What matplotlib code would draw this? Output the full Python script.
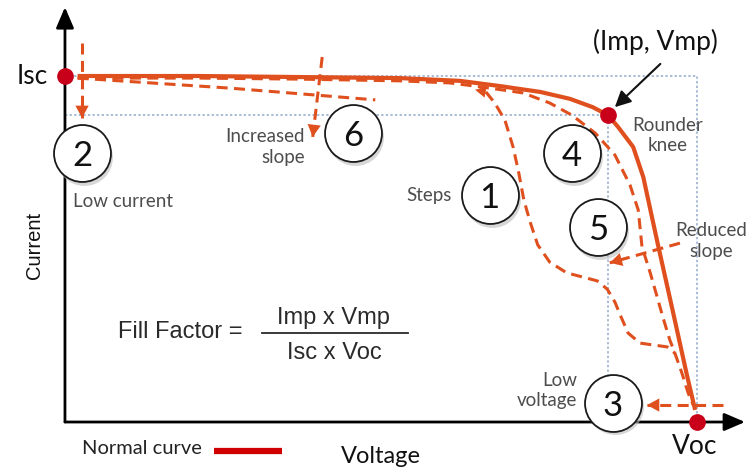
import matplotlib
matplotlib.use("Agg")
import matplotlib.pyplot as plt
import matplotlib.transforms as mtransforms

# all values are normalised: voltage as V/Voc, current as I/Isc
normal_v = [0.02, 0.214, 0.372, 0.530, 0.625, 0.688, 0.752, 0.799, 0.835, 0.859,
            0.875, 0.899, 0.915, 0.938, 0.962, 0.984, 0.997]
normal_i = [1.0, 1.0, 0.997, 0.994, 0.986, 0.971, 0.954, 0.934, 0.910, 0.887,
            0.853, 0.795, 0.708, 0.514, 0.318, 0.136, 0.035]

# rounder knee / reduced slope curve
knee_v = [0.02, 0.214, 0.372, 0.530, 0.609, 0.661, 0.725, 0.767, 0.802, 0.839, 0.870,
          0.894, 0.907, 0.913, 0.926, 0.937, 0.946, 0.957, 0.965, 0.976, 0.986, 0.994]
knee_i = [0.994, 0.994, 0.991, 0.986, 0.980, 0.968, 0.951, 0.922, 0.887, 0.835, 0.772,
          0.685, 0.613, 0.506, 0.431, 0.361, 0.303, 0.237, 0.199, 0.142, 0.084, 0.049]

# steps curve
steps_v = [0.666, 0.680, 0.696, 0.709, 0.718, 0.726, 0.736, 0.748, 0.767, 0.794,
           0.842, 0.858, 0.870, 0.880, 0.891, 0.910, 0.953, 0.965]
steps_i = [0.954, 0.922, 0.873, 0.795, 0.720, 0.642, 0.578, 0.512, 0.462, 0.431,
           0.408, 0.384, 0.347, 0.303, 0.257, 0.228, 0.217, 0.199]

# increased slope near Isc
slope_v = [0.02, 0.261, 0.491]
slope_i = [0.994, 0.965, 0.931]

v_mp, i_mp = 0.859, 0.887

circle_labels = ["1", "2", "3", "4", "5", "6"]
circle_v = [0.672, 0.027, 0.867, 0.802, 0.843, 0.456]
circle_i = [0.656, 0.777, 0.055, 0.777, 0.563, 0.835]

RED = "#E0501E"
DOT = "#C8001A"
GREY = "#4d4d4d"
BLUE = "#8FAACC"
DASH = (3.6, 2.1)
DLW = 2.2

fig = plt.figure(figsize=(7.47, 4.70), dpi=100)
ax = fig.add_axes([0, 0, 1, 1])
ax.set_xlim(-0.1028, 1.0791)
ax.set_ylim(-0.1387, 1.2197)
ax.axis("off")

# axes with arrows
ax.annotate("", xy=(0, 1.199), xytext=(0, 0),
            arrowprops=dict(arrowstyle="-|>,head_length=0.7,head_width=0.3",
                            color="black", lw=2, shrinkA=0, shrinkB=0, mutation_scale=18))
ax.annotate("", xy=(1.076, 0), xytext=(0, 0),
            arrowprops=dict(arrowstyle="-|>,head_length=0.7,head_width=0.3",
                            color="black", lw=2, shrinkA=0, shrinkB=0, mutation_scale=18))

# dotted guide lines
ax.plot([0, v_mp, v_mp], [i_mp, i_mp, 0], color=BLUE, lw=1.1, ls=(0, (1.5, 1.5)), zorder=1)
ax.plot([0, 1, 1], [1, 1, 0], color=BLUE, lw=1.1, ls=(0, (1.5, 1.5)), zorder=1)

# curves
ax.plot(slope_v, slope_i, color=RED, lw=DLW, dashes=DASH, zorder=2)
ax.plot(knee_v, knee_i, color=RED, lw=DLW, dashes=DASH, zorder=2)
ax.plot(steps_v, steps_i, color=RED, lw=DLW, dashes=DASH, zorder=2)
ax.annotate("", xy=(0.649, 0.960), xytext=(steps_v[0], steps_i[0]),
            arrowprops=dict(arrowstyle="-|>,head_length=0.55,head_width=0.3",
                            color=RED, lw=0, shrinkA=0, shrinkB=0, mutation_scale=14))
ax.plot(normal_v, normal_i, color=RED, lw=3, solid_capstyle="butt", zorder=3)


def dashed_arrow(x0, y0, x1, y1):
    ax.plot([x0, x1], [y0, y1], color=RED, lw=DLW, dashes=DASH, zorder=3)
    xm = x0 + 0.8 * (x1 - x0)
    ym = y0 + 0.8 * (y1 - y0)
    ax.annotate("", xy=(x1, y1), xytext=(xm, ym), zorder=3,
                arrowprops=dict(arrowstyle="-|>,head_length=0.55,head_width=0.3",
                                color=RED, lw=0, shrinkA=0, shrinkB=0, mutation_scale=16))


dashed_arrow(0.027, 1.095, 0.027, 0.879)   # 2 low current
dashed_arrow(0.407, 1.055, 0.392, 0.824)   # 6 increased slope
dashed_arrow(0.973, 0.517, 0.862, 0.460)   # 5 reduced slope
dashed_arrow(1.041, 0.049, 0.921, 0.049)   # 3 low voltage

# Imp arrow
ax.annotate("", xy=(0.870, 0.910), xytext=(0.942, 1.035),
            arrowprops=dict(arrowstyle="-|>,head_length=0.6,head_width=0.3",
                            color="#111111", lw=1.5, shrinkA=0, shrinkB=0, mutation_scale=16))

# numbered circles with soft shadow
shadow = mtransforms.offset_copy(ax.transData, fig=fig, x=1.5, y=-2.5, units="points")
ax.plot(circle_v, circle_i, "o", ms=41, mfc="#bdbdbd", mec="none", alpha=0.6,
        transform=shadow, zorder=4)
ax.plot(circle_v, circle_i, "o", ms=41, mfc="white", mec="#1a1a1a", mew=1.3, zorder=5)
for lab, cv, ci in zip(circle_labels, circle_v, circle_i):
    ax.text(cv, ci, lab, fontsize=25, family="Lato", ha="center", va="center_baseline",
            color="#111111", zorder=6)

# key points
ax.plot([0, v_mp, 1], [1, i_mp, 0], "o", ms=11, color=DOT, zorder=7)

# labels
big = dict(family="Lato", color="#111111", zorder=7)
ax.text(-0.027, 1.0, "Isc", fontsize=19, ha="right", va="center", **big)
ax.text(0.997, -0.072, "Voc", fontsize=19, ha="center", va="center", **big)
ax.text(0.934, 1.098, "(Imp, Vmp)", fontsize=19, ha="center", va="center", **big)
ax.text(0.5, -0.101, "Voltage", fontsize=17, ha="center", va="center", **big)
ax.text(-0.049, 0.509, "Current", fontsize=14.5, rotation=90, ha="center", va="center",
        family="Liberation Sans", color="#111111")

small = dict(family="Lato", fontsize=13.5, color=GREY, zorder=7, linespacing=1.25)
ax.text(0.013, 0.636, "Low current", ha="left", va="center", **small)
ax.text(0.380, 0.795, "Increased\nslope", ha="right", va="center", multialignment="right", **small)
ax.text(0.612, 0.656, "Steps", ha="right", va="center", **small)
ax.text(0.954, 0.828, "Rounder\nknee", ha="center", va="center", multialignment="center", **small)
ax.text(1.022, 0.523, "Reduced\nslope", ha="center", va="center", multialignment="center", **small)
ax.text(0.810, 0.091, "Low\nvoltage", ha="right", va="center", multialignment="right", **small)

# fill factor formula
ff = dict(family="Liberation Sans", fontsize=17, color="#2a2a2a")
ax.text(0.084, 0.260, "Fill Factor =", ha="left", va="center", **ff)
ax.text(0.424, 0.301, "Imp x Vmp", ha="center", va="center", **ff)
ax.text(0.427, 0.199, "Isc x Voc", ha="center", va="center", **ff)
ax.plot([0.312, 0.543], [0.257, 0.257], color="#2a2a2a", lw=1.3)

# legend
ax.text(0.027, -0.078, "Normal curve", family="Lato", fontsize=14.5, color="#222222",
        ha="left", va="center")
ax.plot([0.236, 0.343], [-0.084, -0.084], color="#D00000", lw=4.5, solid_capstyle="butt")

fig.savefig("out.png", dpi=100)
